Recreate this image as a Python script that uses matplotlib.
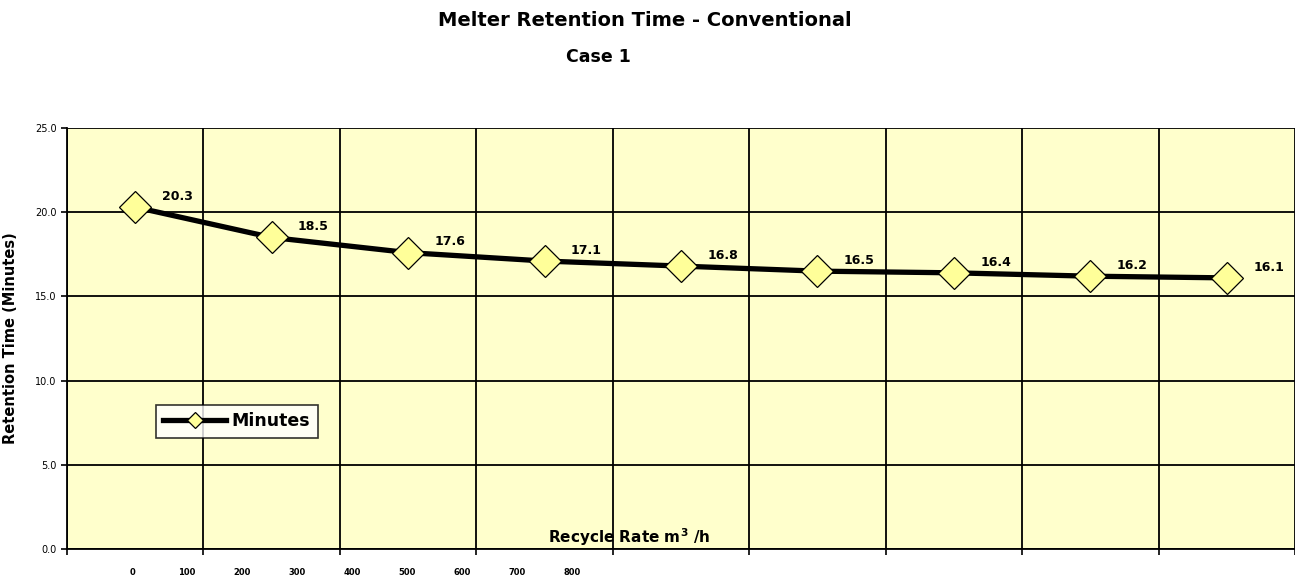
import matplotlib.pyplot as plt
import numpy as np

categories = np.arange(9)
minutes = [20.3, 18.5, 17.6, 17.1, 16.8, 16.5, 16.4, 16.2, 16.1]
rate_labels = [0, 100, 200, 300, 400, 500, 600, 700, 800]
y_ticks = [0, 5, 10, 15, 20, 25]

fig = plt.figure(figsize=(12.95, 5.78), dpi=100)
ax = fig.add_axes([67 / 1295, 29 / 578, 1228 / 1295, 421 / 578])
ax.set_facecolor('#ffffcc')

ax.plot(categories, minutes, color='black', linewidth=3.8, marker='D',
        markersize=16, markerfacecolor='#ffff99', markeredgecolor='black',
        markeredgewidth=0.9, label='Minutes', zorder=3)

for x, v in zip(categories, minutes):
    ax.annotate(f"{v:.1f}", (x, v), xytext=(19, 3), textcoords='offset points',
                fontsize=9, fontweight='bold', ha='left', va='bottom')

ax.set_xlim(-0.5, 8.5)
ax.set_ylim(0, 25)
ax.set_yticks(y_ticks)
ax.set_yticklabels([f"{t:.1f}" for t in y_ticks], fontsize=7)
ax.set_xticks(np.arange(-0.5, 9.0, 1.0))
ax.set_xticklabels([])
ax.tick_params(axis='both', length=4, width=1.2, color='black')
ax.grid(True, color='black', linewidth=1.3)
ax.set_axisbelow(True)
for side in ['top', 'right']:
    ax.spines[side].set_visible(False)
for side in ['left', 'bottom']:
    ax.spines[side].set_linewidth(1.3)

# the odd 0..800 rate labels sit on their own scale under the axis
ax2 = ax.twiny()
ax2.xaxis.set_ticks_position('bottom')
ax2.spines[:].set_visible(False)
ax2.set_xlim(-(132 - 67) / 55 * 100, (1295 - 132) / 55 * 100)
ax2.set_xticks(rate_labels)
ax2.set_xticklabels([str(r) for r in rate_labels], fontsize=6, fontweight='bold')
ax2.tick_params(axis='x', length=0, pad=14)

ax.set_ylabel("Retention Time (Minutes)", fontsize=10.5, fontweight='bold', labelpad=12)
ax.text(0.458, 0.028, "Recycle Rate m$^\\mathbf{3}$ /h", transform=ax.transAxes,
        fontsize=11, fontweight='bold', ha='center', va='center')

leg = ax.legend(loc='upper left', bbox_to_anchor=(80 / 1228, 1 - 268 / 421),
                fontsize=12.5, frameon=True, fancybox=False, borderpad=0.45,
                handlelength=3.6, handletextpad=0.3, markerscale=0.5)
leg.get_frame().set_edgecolor('black')
leg.get_frame().set_linewidth(1.2)
for t in leg.get_texts():
    t.set_fontweight('bold')

fig.text(645 / 1295, 1 - 20 / 578, "Melter Retention Time - Conventional",
         fontsize=14, fontweight='bold', ha='center', va='center')
fig.text(598 / 1295, 1 - 57 / 578, "Case 1", fontsize=12.5, fontweight='bold',
         ha='center', va='center')

fig.savefig('out.png', dpi=100)
